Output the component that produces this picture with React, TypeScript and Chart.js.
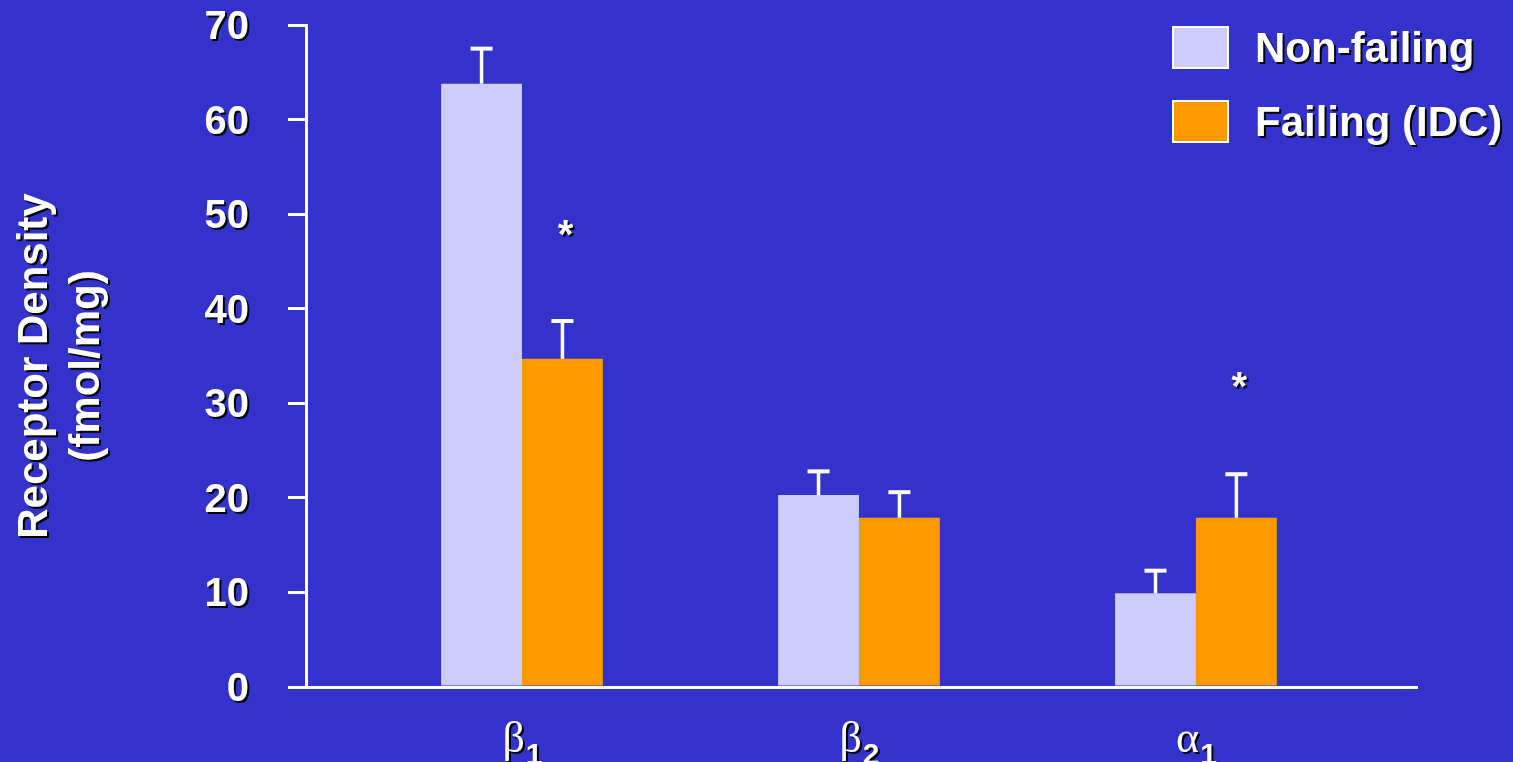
import React, { useEffect, useRef } from "react";
import { Chart, registerables } from "chart.js";

Chart.register(...registerables);

// ---- Data ----
const categoryBase = ["β", "β", "α"];
const categorySub = ["1", "2", "1"];
const seriesNames = ["Non-failing", "Failing (IDC)"];
const nonFailing = [63.8, 20.3, 9.9];
const nonFailingErr = [3.7, 2.5, 2.4];
const failing = [34.7, 17.9, 17.9];
const failingErr = [4.0, 2.7, 4.6];
// asterisk (significance) heights over the failing bars, null = none
const significance: (number | null)[] = [48.5, null, 32.5];
const yTitle = ["Receptor Density", "(fmol/mg)"];
const yMin = 0;
const yMax = 70;
const yStep = 10;

// ---- Style ----
const W = 1513;
const H = 762;
const BG = "#3333CC";
const COLORS = ["#CCCCFF", "#FF9900"];
const SANS = '"Liberation Sans", Arial, sans-serif';
const SERIF = '"Liberation Serif", "Times New Roman", serif';

function withShadow(ctx: CanvasRenderingContext2D, fn: () => void) {
  ctx.save();
  ctx.shadowColor = "rgba(0,0,0,0.95)";
  ctx.shadowOffsetX = 2;
  ctx.shadowOffsetY = 2;
  ctx.shadowBlur = 0.5;
  ctx.fillStyle = "#ffffff";
  fn();
  ctx.restore();
}

const errorSets = [nonFailingErr, failingErr];

const decorPlugin = {
  id: "decor",
  beforeDraw(chart: any) {
    const ctx = chart.ctx;
    ctx.save();
    ctx.fillStyle = BG;
    ctx.fillRect(0, 0, chart.width, chart.height);
    ctx.restore();
  },
  afterDatasetsDraw(chart: any) {
    const ctx: CanvasRenderingContext2D = chart.ctx;
    const yScale = chart.scales.y;
    chart.data.datasets.forEach((ds: any, di: number) => {
      const meta = chart.getDatasetMeta(di);
      const errs = errorSets[di];
      meta.data.forEach((el: any, i: number) => {
        const v = ds.data[i].y;
        const top = yScale.getPixelForValue(v + errs[i]);
        ctx.save();
        ctx.strokeStyle = "#ffffff";
        ctx.lineWidth = 3.5;
        ctx.beginPath();
        ctx.moveTo(el.x, el.y);
        ctx.lineTo(el.x, top);
        ctx.stroke();
        ctx.lineWidth = 4;
        ctx.beginPath();
        ctx.moveTo(el.x - 11, top);
        ctx.lineTo(el.x + 11, top);
        ctx.stroke();
        ctx.restore();
      });
    });
    // significance asterisks
    const fMeta = chart.getDatasetMeta(1);
    significance.forEach((s, i) => {
      if (s === null) return;
      const el: any = fMeta.data[i];
      const py = yScale.getPixelForValue(s);
      withShadow(ctx, () => {
        ctx.font = `bold 40px ${SANS}`;
        ctx.textAlign = "center";
        ctx.textBaseline = "alphabetic";
        ctx.fillText("*", el.x + 3, py + 20);
      });
    });
  },
  afterDraw(chart: any) {
    const ctx: CanvasRenderingContext2D = chart.ctx;
    const yScale = chart.scales.y;
    const xScale = chart.scales.x;
    // y tick labels
    withShadow(ctx, () => {
      ctx.font = `bold 40px ${SANS}`;
      ctx.textAlign = "right";
      ctx.textBaseline = "middle";
      yScale.ticks.forEach((t: any) => {
        const py = yScale.getPixelForValue(t.value);
        ctx.fillText(String(t.value), 249, py + 3);
      });
    });
    // y title (two rotated lines)
    withShadow(ctx, () => {
      ctx.font = `bold 42px ${SANS}`;
      ctx.textAlign = "center";
      ctx.textBaseline = "middle";
      const cy = 366;
      const xs = [35, 87];
      yTitle.forEach((line, i) => {
        ctx.save();
        ctx.translate(xs[i], cy);
        ctx.rotate(-Math.PI / 2);
        ctx.fillText(line, 0, 0);
        ctx.restore();
      });
    });
    // x category labels with subscripts
    withShadow(ctx, () => {
      categoryBase.forEach((b, i) => {
        const cx = xScale.getPixelForValue(i);
        ctx.font = `44px ${SERIF}`;
        const wb = ctx.measureText(b).width;
        ctx.font = `bold 30px ${SANS}`;
        const ws = ctx.measureText(categorySub[i]).width;
        const start = cx - (wb + ws) / 2;
        ctx.textAlign = "left";
        ctx.textBaseline = "alphabetic";
        ctx.font = `44px ${SERIF}`;
        ctx.fillText(b, start, 752);
        ctx.font = `bold 30px ${SANS}`;
        ctx.fillText(categorySub[i], start + wb + 1, 764);
      });
    });
    // legend
    const boxX = 1173;
    const boxW = 55;
    const boxH = 41;
    const rows = [27, 101];
    seriesNames.forEach((name, i) => {
      ctx.save();
      ctx.fillStyle = COLORS[i];
      ctx.fillRect(boxX, rows[i], boxW, boxH);
      ctx.strokeStyle = "#ffffff";
      ctx.lineWidth = 2;
      ctx.strokeRect(boxX, rows[i], boxW, boxH);
      ctx.restore();
      withShadow(ctx, () => {
        ctx.font = `bold 42px ${SANS}`;
        ctx.textAlign = "left";
        ctx.textBaseline = "middle";
        ctx.fillText(name, 1255, rows[i] + boxH / 2 + 3);
      });
    });
  },
};

export default function App() {
  const ref = useRef<HTMLCanvasElement | null>(null);
  useEffect(() => {
    document.body.style.margin = "0";
    const canvas = ref.current;
    if (!canvas) return;
    const chart = new Chart(canvas, {
      type: "bar",
      data: {
        datasets: [
          {
            label: seriesNames[0],
            data: nonFailing.map((v, i) => ({ x: i, y: v })),
            backgroundColor: COLORS[0],
            borderWidth: 0,
          },
          {
            label: seriesNames[1],
            data: failing.map((v, i) => ({ x: i, y: v })),
            backgroundColor: COLORS[1],
            borderWidth: 0,
          },
        ],
      },
      options: {
        responsive: false,
        animation: false,
        layout: { padding: { top: 25, right: 96, left: 0, bottom: 0 } },
        plugins: { legend: { display: false }, tooltip: { enabled: false } },
        datasets: { bar: { barPercentage: 1, categoryPercentage: 0.48 } },
        scales: {
          x: {
            type: "linear",
            offset: false,
            min: -0.641,
            max: 2.656,
            ticks: { display: false },
            grid: { display: false, offset: false },
            border: { display: true, color: "#ffffff", width: 3 },
            afterBuildTicks: (s: any) => {
              s.ticks = categoryBase.map((_, i) => ({ value: i }));
            },
            afterFit: (s: any) => {
              s.height = 75;
            },
          },
          y: {
            min: yMin,
            max: yMax,
            ticks: { stepSize: yStep, display: false },
            grid: {
              drawOnChartArea: false,
              drawTicks: true,
              color: "#ffffff",
              lineWidth: 3,
              tickLength: 18,
            },
            border: { display: true, color: "#ffffff", width: 3 },
            afterFit: (s: any) => {
              s.width = 306;
            },
          },
        },
      } as any,
      plugins: [decorPlugin],
    });
    return () => chart.destroy();
  }, []);
  return (
    <div
      style={{
        position: "absolute",
        left: 0,
        top: 0,
        width: W,
        height: H,
        background: BG,
        overflow: "hidden",
      }}
    >
      <canvas ref={ref} width={W} height={H} style={{ display: "block" }} />
    </div>
  );
}
